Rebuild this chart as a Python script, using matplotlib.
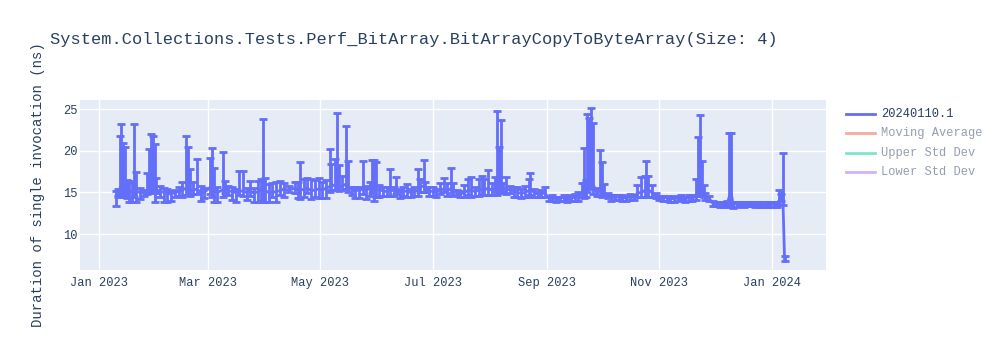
import matplotlib
matplotlib.use("Agg")
import matplotlib.pyplot as plt
import matplotlib.dates as mdates
from matplotlib.lines import Line2D
import pandas as pd

# ---------------- data ----------------
dates = [
    "2023-01-10", "2023-01-11", "2023-01-12", "2023-01-13", "2023-01-14", "2023-01-15", "2023-01-16", "2023-01-17",
    "2023-01-19", "2023-01-20", "2023-01-21", "2023-01-23", "2023-01-25", "2023-01-27", "2023-01-28", "2023-01-29",
    "2023-01-30", "2023-01-31",
    "2023-02-01", "2023-02-03", "2023-02-05", "2023-02-07", "2023-02-09", "2023-02-11", "2023-02-13", "2023-02-15",
    "2023-02-17", "2023-02-18", "2023-02-19", "2023-02-21", "2023-02-23", "2023-02-25", "2023-02-27",
    "2023-03-02", "2023-03-03", "2023-03-04", "2023-03-06", "2023-03-09", "2023-03-10", "2023-03-12", "2023-03-14",
    "2023-03-16", "2023-03-18", "2023-03-20", "2023-03-22", "2023-03-24", "2023-03-26", "2023-03-28", "2023-03-30",
    "2023-03-31",
    "2023-04-01", "2023-04-03", "2023-04-05", "2023-04-07", "2023-04-09", "2023-04-11", "2023-04-14", "2023-04-17",
    "2023-04-19", "2023-04-20", "2023-04-22", "2023-04-24", "2023-04-26", "2023-04-28", "2023-04-30",
    "2023-05-02", "2023-05-04", "2023-05-06", "2023-05-07", "2023-05-09", "2023-05-10", "2023-05-11", "2023-05-13",
    "2023-05-15", "2023-05-16", "2023-05-18", "2023-05-20", "2023-05-22", "2023-05-24", "2023-05-26", "2023-05-28",
    "2023-05-29", "2023-05-30", "2023-05-31",
    "2023-06-02", "2023-06-04", "2023-06-06", "2023-06-08", "2023-06-10", "2023-06-11", "2023-06-13", "2023-06-15",
    "2023-06-17", "2023-06-19", "2023-06-21", "2023-06-23", "2023-06-24", "2023-06-26", "2023-06-27", "2023-06-29",
    "2023-07-01", "2023-07-03", "2023-07-05", "2023-07-07", "2023-07-09", "2023-07-11", "2023-07-12", "2023-07-14",
    "2023-07-16", "2023-07-18", "2023-07-20", "2023-07-22", "2023-07-24", "2023-07-26", "2023-07-28", "2023-07-29",
    "2023-07-31",
    "2023-08-02", "2023-08-04", "2023-08-05", "2023-08-06", "2023-08-07", "2023-08-08", "2023-08-10", "2023-08-12",
    "2023-08-14", "2023-08-16", "2023-08-18", "2023-08-20", "2023-08-22", "2023-08-23", "2023-08-25", "2023-08-27",
    "2023-08-29", "2023-08-31",
    "2023-09-02", "2023-09-04", "2023-09-06", "2023-09-08", "2023-09-10", "2023-09-12", "2023-09-14", "2023-09-16",
    "2023-09-18", "2023-09-20", "2023-09-21", "2023-09-22", "2023-09-23", "2023-09-24", "2023-09-25", "2023-09-26",
    "2023-09-28", "2023-09-30",
    "2023-10-01", "2023-10-02", "2023-10-04", "2023-10-06", "2023-10-08", "2023-10-10", "2023-10-12", "2023-10-14",
    "2023-10-16", "2023-10-18", "2023-10-20", "2023-10-22", "2023-10-24", "2023-10-25", "2023-10-26", "2023-10-28",
    "2023-10-30",
    "2023-11-01", "2023-11-03", "2023-11-05", "2023-11-07", "2023-11-09", "2023-11-11", "2023-11-13", "2023-11-15",
    "2023-11-17", "2023-11-19", "2023-11-21", "2023-11-22", "2023-11-23", "2023-11-24", "2023-11-25", "2023-11-26",
    "2023-11-28", "2023-11-30",
    "2023-12-02", "2023-12-04", "2023-12-06", "2023-12-08", "2023-12-09", "2023-12-10", "2023-12-11", "2023-12-13",
    "2023-12-15", "2023-12-17", "2023-12-19", "2023-12-21", "2023-12-23", "2023-12-25", "2023-12-27", "2023-12-29",
    "2023-12-31",
    "2024-01-02", "2024-01-04", "2024-01-05", "2024-01-06", "2024-01-07", "2024-01-08",
]

mean_ns = [
    14.6, 15.0, 15.3, 16.0, 15.5, 15.4, 15.0, 15.2,
    15.0, 15.5, 15.2, 15.0, 14.9, 15.2, 15.6, 16.0,
    15.5, 15.2,
    15.4, 15.0, 15.1, 14.9, 14.8, 15.0, 15.1, 15.3,
    15.5, 15.6, 15.2, 15.3, 15.4, 15.0, 15.0,
    15.6, 15.8, 15.3, 15.0, 15.3, 15.5, 15.2, 15.1,
    15.0, 15.1, 15.2, 15.0, 15.2, 14.9, 15.1, 15.4,
    15.8,
    15.2, 15.0, 15.0, 15.1, 15.2, 15.4, 15.3, 15.5,
    15.3, 15.4, 15.3, 15.5, 15.2, 15.3, 15.4,
    15.3, 15.5, 15.7, 15.8, 15.9, 16.0, 15.6, 15.8,
    16.0, 15.5, 15.4, 15.2, 15.3, 15.4, 15.3, 15.5,
    15.6, 15.8, 15.5,
    15.3, 15.2, 15.1, 15.3, 15.2, 15.3, 15.0, 15.1,
    15.2, 15.0, 15.1, 15.3, 15.6, 15.8, 15.4, 15.2,
    15.1, 15.0, 15.3, 15.4, 15.2, 15.5, 15.3, 15.0,
    14.8, 15.0, 15.2, 15.3, 15.1, 15.3, 15.4, 15.3,
    15.5,
    15.3, 15.5, 16.5, 16.0, 16.2, 15.5, 15.4, 15.3,
    15.2, 15.0, 14.9, 15.0, 15.2, 15.4, 15.0, 14.8,
    14.9, 14.9,
    14.3, 14.4, 14.2, 14.3, 14.4, 14.2, 14.3, 14.4,
    14.5, 14.9, 15.1, 15.2, 16.5, 17.0, 17.5, 16.0,
    15.0, 15.3,
    15.4, 15.0, 14.6, 14.4, 14.4, 14.5, 14.4, 14.3,
    14.5, 14.4, 14.9, 15.0, 15.2, 15.5, 15.3, 15.0,
    14.6,
    14.4, 14.3, 14.4, 14.2, 14.3, 14.3, 14.4, 14.2,
    14.4, 14.3, 14.6, 15.2, 15.8, 15.5, 15.0, 14.5,
    14.3, 13.7,
    13.7, 13.6, 13.5, 13.7, 14.5, 15.0, 13.6, 13.6,
    13.7, 13.6, 13.7, 13.6, 13.6, 13.5, 13.5, 13.6,
    13.5,
    13.6, 13.5, 14.0, 14.4, 15.0, 7.0,
]

err_up_ns = [
    0.6, 0.4, 6.5, 7.2, 5.5, 5.1, 1.5, 1.2,
    1.3, 7.7, 2.2, 0.5, 0.4, 2.1, 4.6, 6.0,
    6.3, 5.6,
    1.3, 0.8, 0.4, 0.5, 0.4, 0.3, 0.5, 1.0,
    6.3, 4.9, 2.6, 1.0, 3.6, 0.8, 0.5,
    3.6, 4.5, 2.7, 0.6, 4.6, 0.9, 0.6, 0.5,
    0.4, 2.5, 2.4, 0.5, 1.2, 0.6, 1.3, 1.2,
    8.0,
    1.5, 1.0, 1.1, 1.1, 1.2, 0.7, 0.5, 0.7,
    0.9, 3.3, 1.3, 1.2, 1.4, 1.2, 1.3,
    0.9, 1.0, 4.5, 2.6, 3.1, 8.6, 2.7, 1.2,
    7.0, 3.3, 0.3, 0.5, 0.4, 3.4, 0.5, 0.8,
    3.3, 3.1, 3.2,
    0.6, 0.5, 0.6, 2.5, 0.4, 1.5, 0.4, 0.6,
    0.8, 0.4, 0.5, 2.5, 1.0, 3.1, 0.9, 0.4,
    0.5, 0.4, 0.8, 1.3, 0.9, 2.4, 0.8, 0.3,
    0.4, 0.9, 1.4, 1.5, 0.6, 1.3, 1.6, 1.3,
    2.2,
    0.8, 1.4, 8.3, 4.5, 7.5, 0.6, 1.4, 0.5,
    0.4, 0.6, 0.5, 0.8, 1.4, 1.9, 0.4, 0.3,
    0.4, 0.8,
    0.3, 0.3, 0.3, 0.2, 0.3, 0.3, 0.4, 0.4,
    0.5, 1.2, 5.2, 1.3, 7.9, 7.0, 7.6, 7.4,
    0.5, 4.8,
    3.3, 1.0, 0.3, 0.3, 0.3, 0.2, 0.3, 0.3,
    0.3, 0.3, 1.0, 1.8, 1.8, 3.3, 1.7, 0.9,
    0.3,
    0.2, 0.3, 0.2, 0.3, 0.3, 0.2, 0.3, 0.3,
    0.3, 0.4, 2.0, 6.5, 8.5, 3.3, 0.9, 0.4,
    0.3, 0.3,
    0.2, 0.3, 0.3, 0.3, 7.7, 7.1, 0.3, 0.3,
    0.2, 0.3, 0.2, 0.3, 0.2, 0.3, 0.3, 0.2,
    0.3,
    0.2, 0.3, 1.3, 0.4, 4.7, 0.3,
]

err_down_ns = [
    1.2, 0.5, 0.6, 1.5, 0.8, 0.9, 0.7, 1.3,
    1.2, 1.0, 1.4, 0.8, 0.3, 0.4, 0.6, 1.0,
    0.6, 1.3,
    0.5, 0.5, 1.2, 1.0, 0.8, 0.6, 0.5, 0.8,
    0.8, 0.9, 0.6, 0.5, 0.6, 1.0, 0.7,
    0.8, 1.4, 1.5, 1.1, 0.8, 0.6, 0.5, 1.0,
    1.1, 0.4, 0.6, 0.9, 0.6, 1.1, 1.2, 1.4,
    2.0,
    1.3, 1.2, 0.5, 1.3, 0.5, 1.0, 0.3, 0.6,
    1.0, 1.2, 0.8, 0.6, 1.0, 0.8, 1.1,
    1.0, 1.2, 0.6, 0.5, 0.6, 0.7, 0.4, 0.5,
    0.6, 0.4, 0.7, 0.9, 1.0, 0.6, 1.1, 0.9,
    0.7, 1.8, 1.0,
    0.8, 0.6, 0.5, 0.7, 0.6, 0.5, 0.7, 0.5,
    0.8, 0.6, 0.5, 0.7, 0.5, 0.7, 0.4, 0.6,
    0.5, 0.6, 0.5, 0.4, 0.6, 0.6, 0.7, 0.3,
    0.4, 0.6, 0.5, 0.8, 0.5, 0.7, 0.7, 0.6,
    0.8,
    0.6, 0.4, 1.8, 1.0, 1.3, 0.5, 0.6, 0.4,
    0.7, 0.5, 0.6, 0.6, 0.8, 0.7, 0.6, 0.4,
    0.5, 0.4,
    0.3, 0.4, 0.3, 0.3, 0.4, 0.3, 0.3, 0.4,
    0.5, 0.5, 0.8, 0.8, 1.5, 1.6, 2.0, 1.2,
    0.4, 0.7,
    0.9, 0.4, 0.3, 0.4, 0.3, 0.4, 0.4, 0.3,
    0.4, 0.3, 0.5, 0.6, 0.8, 1.0, 0.9, 0.5,
    0.3,
    0.3, 0.3, 0.4, 0.3, 0.4, 0.3, 0.3, 0.4,
    0.4, 0.3, 0.5, 0.6, 1.0, 0.9, 0.5, 0.4,
    0.3, 0.3,
    0.3, 0.3, 0.2, 0.4, 1.0, 1.3, 0.5, 0.3,
    0.3, 0.3, 0.3, 0.2, 0.3, 0.3, 0.3, 0.3,
    0.3,
    0.3, 0.3, 0.5, 0.4, 1.5, 0.2,
]

title_text = "System.Collections.Tests.Perf_BitArray.BitArrayCopyToByteArray(Size: 4)"
y_label = "Duration of single invocation (ns)"
legend_labels = ["20240110.1", "Moving Average", "Upper Std Dev", "Lower Std Dev"]
legend_colors = ["#636efa", "#EF553B", "#00cc96", "#ab63fa"]
legend_visible = [True, False, False, False]
y_ticks = [10, 15, 20, 25]
x_ticks = ["2023-01-01", "2023-03-01", "2023-05-01", "2023-07-01", "2023-09-01", "2023-11-01", "2024-01-01"]

# ---------------- styling ----------------
FONT = ["Liberation Mono", "DejaVu Sans Mono"]
TEXT_COLOR = "#2a3f5f"
plt.rcParams["font.family"] = FONT

fig = plt.figure(figsize=(10, 3.5), dpi=100)
fig.patch.set_facecolor("white")
ax = fig.add_axes([0.08, 1 - 270 / 350, 0.746, 170 / 350])
ax.set_facecolor("#e5ecf6")

x = pd.to_datetime(dates)
ax.errorbar(x, mean_ns, yerr=[err_down_ns, err_up_ns], color=legend_colors[0],
            lw=2, elinewidth=2, capsize=3, capthick=2, zorder=3)

ax.set_xlim(pd.Timestamp("2022-12-21 12:00"), pd.Timestamp("2024-01-30 12:00"))
ax.set_ylim(5.67, 26.12)
ax.set_yticks(y_ticks)
ax.set_xticks(pd.to_datetime(x_ticks))
ax.xaxis.set_major_formatter(mdates.DateFormatter("%b %Y"))

ax.grid(True, color="white", lw=1, zorder=0)
ax.set_axisbelow(True)
for s in ax.spines.values():
    s.set_visible(False)
ax.tick_params(axis="both", length=0, labelsize=8.64, labelcolor=TEXT_COLOR)
ax.tick_params(axis="y", pad=2)
ax.tick_params(axis="x", pad=5)

fig.text(0.05, 1 - 44 / 350, title_text, fontsize=12.24, color=TEXT_COLOR,
         ha="left", va="baseline")
fig.text(0.038, 1 - 185 / 350, y_label, fontsize=10.08, color=TEXT_COLOR,
         rotation=90, ha="center", va="center")

# legend (plotly style; hidden traces faded)
leg_y = [114, 133.3, 152.6, 171.9]
for lab, col, vis, yy in zip(legend_labels, legend_colors, legend_visible, leg_y):
    alpha = 1.0 if vis else 0.5
    fy = 1 - yy / 350
    fig.add_artist(Line2D([0.846, 0.875], [fy, fy], color=col, lw=2, alpha=alpha,
                          transform=fig.transFigure))
    fig.text(0.881, fy, lab, fontsize=8.64, color=TEXT_COLOR, alpha=alpha,
             ha="left", va="center")

fig.savefig("out.png", dpi=100)
